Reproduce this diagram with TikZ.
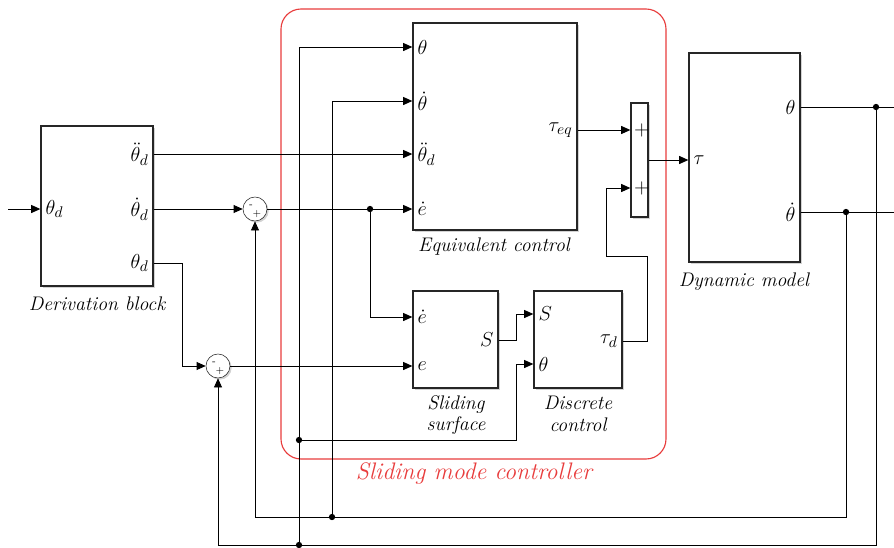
\documentclass[tikz,border=0pt]{standalone}
\usepackage{tikz}
\usetikzlibrary{arrows.meta,positioning,shadows,calc}
\usepackage{amsmath,amssymb}
\definecolor{FrameRed}{RGB}{232,60,60}
\tikzset{
  block/.style={draw=black!85,line width=0.9pt,fill=white,inner sep=0pt,
    drop shadow={shadow xshift=1.6pt,shadow yshift=-1.6pt,opacity=0.35}},
  inport/.style={anchor=west,inner sep=0pt,xshift=3pt},
  outport/.style={anchor=east,inner sep=0pt,xshift=-3pt},
  caption/.style={font=\fontsize{14}{15.5}\selectfont\itshape,align=center},
  sumcirc/.style={draw=black!85,circle,fill=white,minimum size=0.6cm,inner sep=0pt,
    drop shadow={shadow xshift=1.2pt,shadow yshift=-1.2pt,opacity=0.35}},
  sig/.style={-{Triangle[length=2.3mm,width=2mm]},line width=0.7pt},
  wire/.style={line width=0.7pt},
  dot/.style={circle,fill=black,inner sep=0pt,minimum size=4.5pt},
  sign/.style={font=\scriptsize,inner sep=0pt},
}

\begin{document}
\begin{tikzpicture}[x=0.025cm,y=-0.025cm,font=\fontsize{15}{17}\selectfont]
  \useasboundingbox (0,0) rectangle (894,547);

  % controller frame
  \draw[FrameRed,line width=0.8pt,rounded corners=0.5cm] (281,9) rectangle (666,459);
  \node[caption,text=FrameRed,font=\fontsize{17}{19}\selectfont\itshape] (smc) at (474,474) {Sliding mode controller};

  % blocks
  \node[block,minimum width=2.8cm,minimum height=4cm] (der) at (97,206) {};
  \node[block,minimum width=4.1cm,minimum height=5.175cm] (eqc) at (495,126.5) {};
  \node[block,minimum width=2.125cm,minimum height=2.425cm] (surf) at (455.5,339.5) {};
  \node[block,minimum width=2.2cm,minimum height=2.425cm] (disc) at (578,339.5) {};
  \node[block,minimum width=2.775cm,minimum height=5.225cm] (dyn) at (744.5,157.5) {};
  \node[block,minimum width=0.425cm,minimum height=2.85cm] (sumb) at (639.5,160) {};
  \node[sumcirc] (s1) at (255,209) {};
  \node[sumcirc] (s2) at (218,366) {};
  \node[sign] at ($(s1)+(-4,-3)$) {-};
  \node[sign] at ($(s1)+(2,5)$) {+};
  \node[sign] at ($(s2)+(-4,-3)$) {-};
  \node[sign] at ($(s2)+(2,5)$) {+};

  % captions
  \node[caption] (derlab) at (97,304) {Derivation block};
  \node[caption] (eqclab) at (494,247) {Equivalent control};
  \node[caption] (surflab) at (456,415) {Sliding\\surface};
  \node[caption] (disclab) at (578,414) {Discrete\\control};
  \node[caption] (dynlab) at (744,282) {Dynamic model};

  % ports
  \node[inport] (derin) at (41,209) {$\theta_d$};
  \node[outport] (derdd) at (153,154) {$\ddot{\theta}_d$};
  \node[outport] (derd) at (153,209) {$\dot{\theta}_d$};
  \node[outport] (der0) at (153,263) {$\theta_d$};
  \node[inport] (eqth) at (413,47) {$\theta$};
  \node[inport] (eqthd) at (413,101) {$\dot{\theta}$};
  \node[inport] (eqdd) at (413,154) {$\ddot{\theta}_d$};
  \node[inport] (eqe) at (413,209) {$\dot{e}$};
  \node[outport] (eqtau) at (577,130) {$\tau_{eq}$};
  \node[inport] (surfed) at (413,317) {$\dot{e}$};
  \node[inport] (surfe) at (413,366) {$e$};
  \node[outport] (surfs) at (498,340) {$S$};
  \node[inport] (discs) at (534,314) {$S$};
  \node[inport] (discth) at (534,364) {$\theta$};
  \node[outport] (disctau) at (622,341) {$\tau_d$};
  \node[inport,xshift=-1pt] (sump1) at (631,130) {$+$};
  \node[inport,xshift=-1pt] (sump2) at (631,188) {$+$};
  \node[inport] (dyntau) at (689,160) {$\tau$};
  \node[outport] (dynth) at (800,107) {$\theta$};
  \node[outport] (dynthd) at (800,212) {$\dot{\theta}$};

  % junctions
  \coordinate (in) at (8,209);
  \coordinate (out1) at (894,107);
  \coordinate (out2) at (894,212);
  \node[dot] (j1) at (370,209) {};
  \node[dot] (jr1) at (846,212) {};
  \node[dot] (jr2) at (876,107) {};
  \node[dot] (jb1) at (332,517) {};
  \node[dot] (jb2) at (299,545) {};
  \node[dot] (jb3) at (299,440) {};

  % signals
  \draw[sig] (in) -- (der.west |- derin);
  \draw[sig] (der.east |- derdd) -- (eqc.west |- eqdd);
  \draw[sig] (der.east |- derd) -- (s1.west);
  \draw[sig] (der.east |- der0) -- ++(29,0) |- (s2.west);
  \draw[sig] (s1.east) -- (eqc.west |- eqe);
  \draw[sig] (j1) |- (surf.west |- surfed);
  \draw[sig] (s2.east) -- (surf.west |- surfe);
  \draw[sig] (jb2) |- (eqc.west |- eqth);
  \draw[sig] (jb1) |- (eqc.west |- eqthd);
  \draw[sig] (jb3) -- ++(217,0) |- (disc.west |- discth);
  \draw[sig] (surf.east |- surfs) -- ++(18,0) |- (disc.west |- discs);
  \draw[sig] (disc.east |- disctau) -- ++(25,0) -- ++(0,-85) -- ++(-41,0) |- (sumb.west |- sump2);
  \draw[sig] (eqc.east |- eqtau) -- (sumb.west |- sump1);
  \draw[sig] (sumb.east) -- (dyn.west |- dyntau);
  \draw[wire] (dyn.east |- dynth) -- (out1);
  \draw[wire] (dyn.east |- dynthd) -- (out2);
  \draw[sig] (jr1) -- ++(0,305) -| (s1.south);
  \draw[sig] (jr2) -- ++(0,438) -| (s2.south);
\end{tikzpicture}
\end{document}
